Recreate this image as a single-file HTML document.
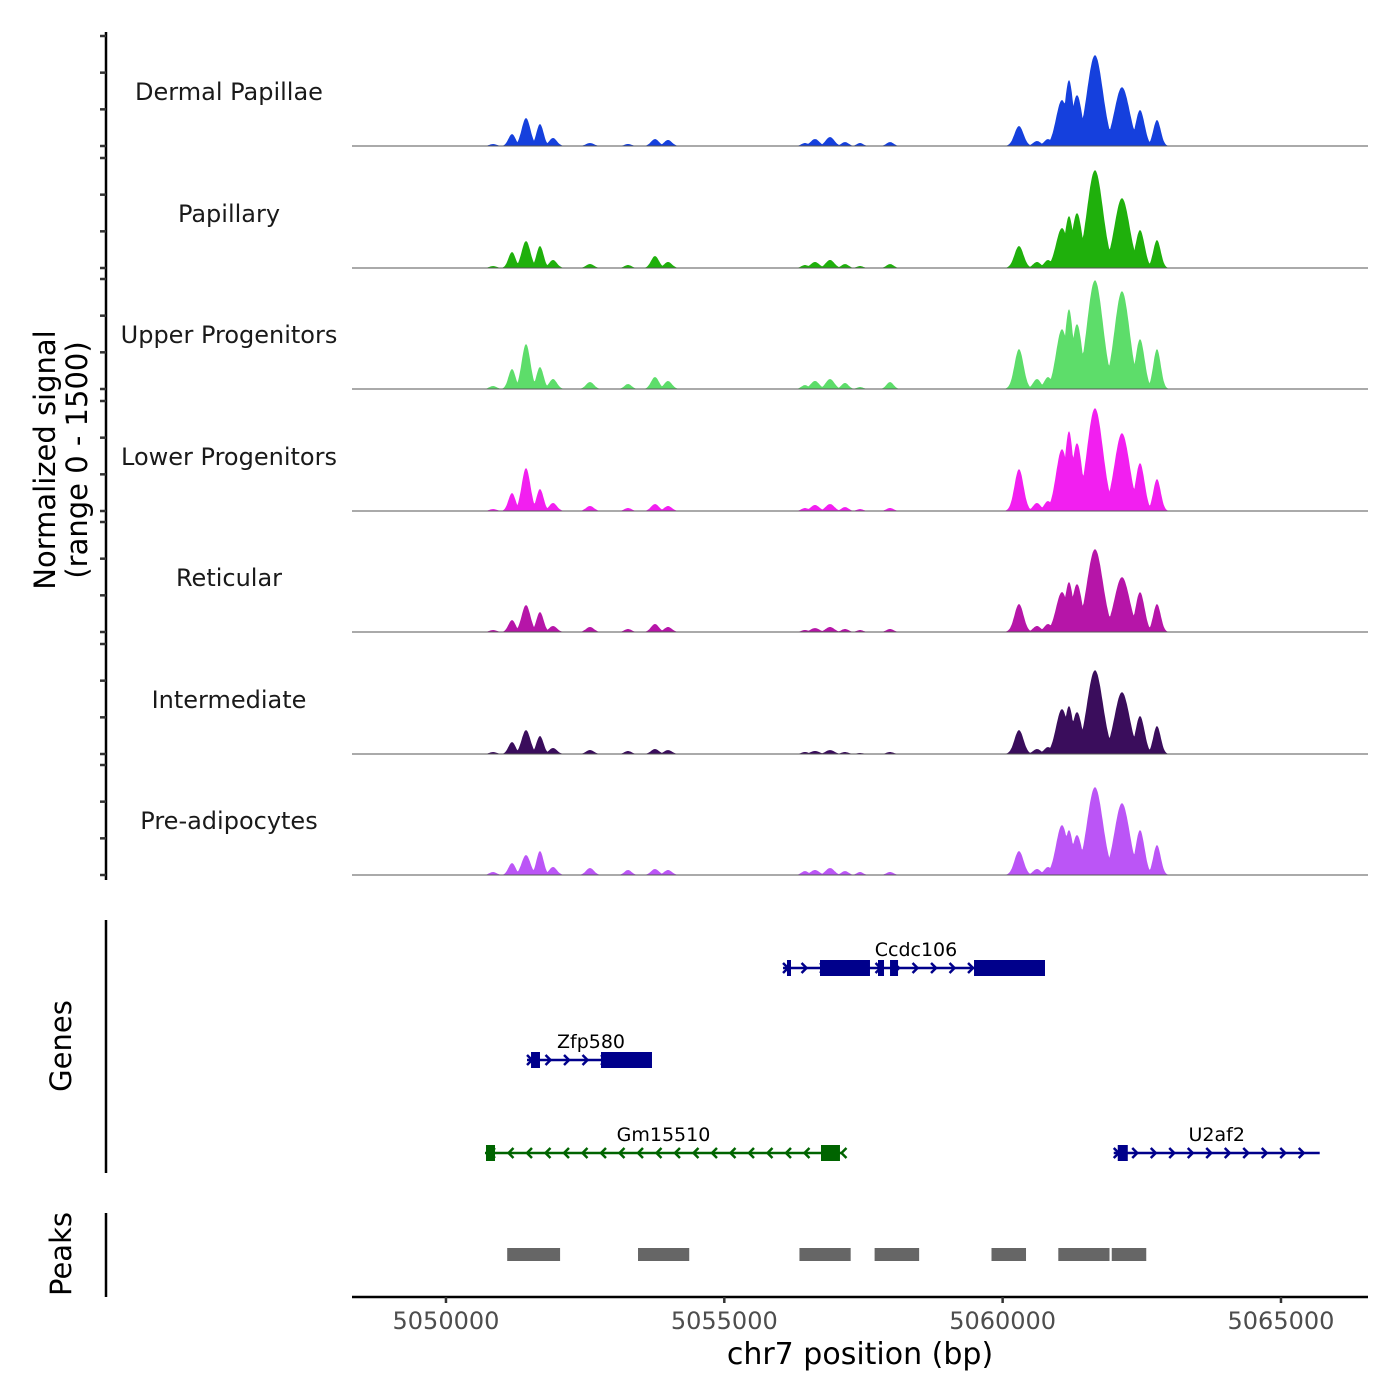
<!DOCTYPE html>
<html><head><meta charset="utf-8"><style>
html,body{margin:0;padding:0;background:#fff;}
svg{display:block;font-family:"DejaVu Sans","Liberation Sans",sans-serif;}
</style></head><body>
<svg id="chart" width="1400" height="1400" viewBox="0 0 1400 1400" xmlns="http://www.w3.org/2000/svg">
<g id="tracks"></g>
<g id="yaxis"></g>
<text transform="translate(55,460) rotate(-90)" text-anchor="middle" font-size="29" fill="#000">Normalized signal</text>
<text transform="translate(87,460) rotate(-90)" text-anchor="middle" font-size="29" fill="#000">(range 0 - 1500)</text>
<g id="genes"></g>
<line x1="106" y1="920" x2="106" y2="1173" stroke="#000" stroke-width="2.5"/>
<text transform="translate(71,1046) rotate(-90)" text-anchor="middle" font-size="29">Genes</text>
<g id="peaks"></g>
<line x1="106" y1="1213" x2="106" y2="1297" stroke="#000" stroke-width="2.5"/>
<text transform="translate(71,1254) rotate(-90)" text-anchor="middle" font-size="29">Peaks</text>
<g id="xaxis"></g>
<text x="860" y="1364" text-anchor="middle" font-size="30" fill="#000">chr7 position (bp)</text>
</svg>
<script>
const trackNames = ["Dermal Papillae","Papillary","Upper Progenitors","Lower Progenitors","Reticular","Intermediate","Pre-adipocytes"];
const trackColors = ["#1540dd","#1fb00c","#5ddd6a","#f21ff0","#b615a8","#3a0d5c","#bb55f6"];
const peakPos = [5050845,5051186,5051438,5051689,5051923,5052587,5053270,5053755,5053989,5056450,5056629,5056899,5057168,5057438,5057977,5060294,5060617,5060815,5061066,5061192,5061336,5061659,5062144,5062468,5062773];
const peakWidth = [90,90,110,90,100,100,90,100,100,90,110,110,90,80,90,115,100,100,150,110,130,200,190,115,95];
const sigDermal = [27,163,381,299,109,41,27,95,82,41,95,122,54,41,54,272,68,95,626,898,694,1238,802,490,354];
const sigPapillary = [27,218,367,299,109,54,41,163,82,41,82,109,54,27,54,299,82,109,544,707,748,1333,952,517,381];
const sigUpper = [41,272,612,299,136,95,68,163,109,54,109,136,82,27,95,544,136,163,816,1088,884,1482,1333,680,544];
const sigLower = [27,245,585,299,109,68,41,95,68,41,82,95,54,27,41,571,109,136,843,1088,925,1401,1061,653,435];
const sigReticular = [27,163,367,272,82,68,41,109,68,27,54,68,41,27,41,381,82,109,544,680,653,1129,748,544,381];
const sigIntermediate = [27,163,326,245,82,54,41,68,54,27,41,54,27,14,27,326,68,95,612,653,571,1142,843,517,381];
const sigPreadipo = [41,163,272,326,109,95,68,82,68,54,68,95,54,41,41,326,82,109,680,612,544,1197,979,612,408];
const trackSignals = [sigDermal,sigPapillary,sigUpper,sigLower,sigReticular,sigIntermediate,sigPreadipo];
const xTicks = [5050000,5055000,5060000,5065000];
const yTicks = [0,500,1000,1500];
const peakStarts = [5051100,5053450,5056350,5057700,5059800,5061000,5061960];
const peakEnds = [5052050,5054370,5057270,5058500,5060420,5061920,5062580];
const geneNames = ["Ccdc106","Zfp580","Gm15510","U2af2"];
const geneStarts = [5056055,5051456,5050701,5061996];
const geneEnds = [5060761,5053701,5057114,5065696];
const geneStrand = [1,1,-1,1];
const geneRow = [0,1,2,2];
const geneColors = ["#00008b","#00008b","#006400","#00008b"];
const exonGene = [0,0,0,0,0,1,1,2,2,3];
const exonStarts = [5056126,5056719,5057761,5057977,5059486,5051528,5052785,5050719,5056737,5062068];
const exonEnds = [5056198,5057617,5057869,5058121,5060761,5051689,5053701,5050881,5057078,5062248];

const NS="http://www.w3.org/2000/svg";
const X0=5048312, PX=0.055667, PLOTL=352, PLOTR=1368;
const xs = bp => PLOTL + (bp - X0)*PX;
const baselines=[146,268,389,511,632,754,875];
const ys = (v,b) => b - v*110/1500;
function mk(tag,attrs,parent){const e=document.createElementNS(NS,tag);for(const k in attrs)e.setAttribute(k,attrs[k]);parent.appendChild(e);return e;}

const tracks=document.getElementById('tracks');
trackSignals.forEach((sig,t)=>{
  const b=baselines[t];
  const g=mk('g',{},tracks);
  
  
  let pts=[];
  for(let bp=X0; bp<=5066560; bp+=15){
    let v=0;
    for(let i=0;i<peakPos.length;i++){
      const d=(bp-peakPos[i])/peakWidth[i];
      const c=sig[i]*Math.exp(-d*d);
      if(c>v)v=c;
    }
    pts.push(xs(bp).toFixed(1)+','+ys(v,b).toFixed(1));
  }
  const area=mk('polygon',{points:xs(X0)+','+b+' '+pts.join(' ')+' '+xs(5066560)+','+b,fill:trackColors[t]},g);
  
  
  const bl=mk('line',{x1:PLOTL,x2:PLOTR,y1:b,y2:b,stroke:'#555','stroke-width':1},g);
  
  
  const lab=mk('text',{x:229,y:b-46,'text-anchor':'middle','font-size':24,fill:'#1a1a1a'},g);
  lab.textContent=trackNames[t];
  
  
});

const yax=document.getElementById('yaxis');
const yl=mk('line',{x1:106,x2:106,y1:32,y2:880,stroke:'#000','stroke-width':2.5},yax);


baselines.forEach(b=>{yTicks.forEach(v=>{
  const tk=mk('line',{x1:100,x2:106,y1:ys(v,b),y2:ys(v,b),stroke:'#333','stroke-width':2.5},yax);
  
  
});});

const genes=document.getElementById('genes');
const rowY=[968,1060,1153];
geneNames.forEach((n,i)=>{
  const y=rowY[geneRow[i]], c=geneColors[i];
  const g=mk('g',{},genes);
  
  
  const x1=xs(geneStarts[i]), x2=xs(geneEnds[i]);
  mk('line',{x1:x1,x2:x2,y1:y,y2:y,stroke:c,'stroke-width':2.5},g);
  for(let x=x1+5;x<=x2;x+=18.5){
    const d=geneStrand[i]*5;
    mk('polyline',{points:(x-d)+','+(y-5)+' '+x+','+y+' '+(x-d)+','+(y+5),fill:'none',stroke:c,'stroke-width':2.5},g);
  }
  const lab=mk('text',{x:(x1+x2)/2,y:y-12,'text-anchor':'middle','font-size':19,fill:'#000'},g);
  if(n==='Ccdc106')lab.setAttribute('x',916);
  if(n==='Zfp580')lab.setAttribute('x',591);
  lab.textContent=n;
  
  
});
exonGene.forEach((gi,i)=>{
  const y=rowY[geneRow[gi]];
  const r=mk('rect',{x:xs(exonStarts[i]),y:y-8,width:xs(exonEnds[i])-xs(exonStarts[i]),height:16,fill:geneColors[gi]},genes);
  
  
});

const peaks=document.getElementById('peaks');
peakStarts.forEach((s,i)=>{
  const r=mk('rect',{x:xs(s),y:1248,width:xs(peakEnds[i])-xs(s),height:13,fill:'#666'},peaks);
  
  
});

const xax=document.getElementById('xaxis');
const xl=mk('line',{x1:PLOTL,x2:PLOTR,y1:1297,y2:1297,stroke:'#000','stroke-width':2.5},xax);


xTicks.forEach(v=>{
  const tk=mk('line',{x1:xs(v),x2:xs(v),y1:1297,y2:1303,stroke:'#333','stroke-width':2.5},xax);
  
  
  const tl=mk('text',{x:xs(v),y:1329,'text-anchor':'middle','font-size':24,fill:'#4d4d4d'},xax);
  tl.textContent=v;
  
  
});
</script>
</body></html>
